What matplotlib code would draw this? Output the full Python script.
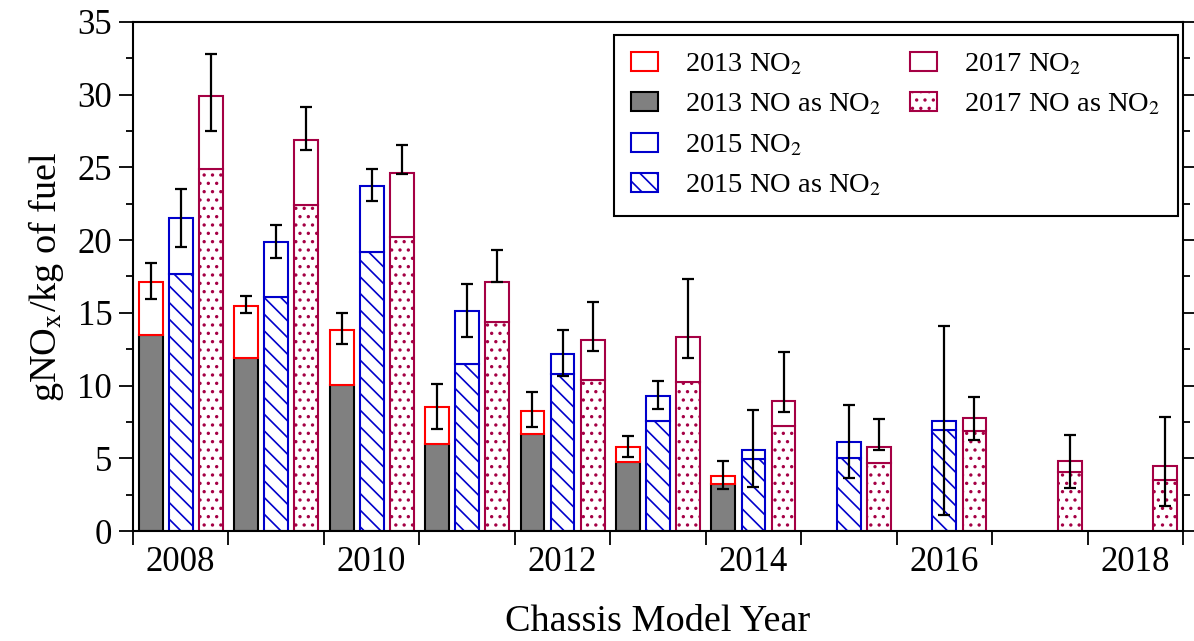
import numpy as np
from matplotlib import rcParams
rcParams['font.family'] = ['Liberation Serif', 'DejaVu Serif']
rcParams['mathtext.fontset'] = 'stix'
rcParams['hatch.linewidth'] = 1.2
from matplotlib import pyplot as plt
from matplotlib.patches import Patch

years = np.arange(2008, 2019)

# 2013 campaign (2008-2014 chassis)
no_2013 = [13.5, 11.9, 10.05, 5.95, 6.7, 4.75, 3.25]
tot_2013 = [17.1, 15.5, 13.8, 8.5, 8.25, 5.75, 3.8]
lo_2013 = [15.93, 15.01, 12.84, 7.01, 7.15, 5.09, 2.89]
hi_2013 = [18.41, 16.18, 14.97, 10.11, 9.54, 6.53, 4.79]

# 2015 campaign (2008-2016)
no_2015 = [17.7, 16.1, 19.15, 11.45, 10.8, 7.55, 4.95, 5.05, 6.95]
tot_2015 = [21.5, 19.9, 23.75, 15.1, 12.2, 9.25, 5.6, 6.1, 7.55]
lo_2015 = [19.53, 18.8, 22.7, 13.32, 10.68, 8.37, 3.0, 3.67, 1.12]
hi_2015 = [23.54, 21.02, 24.87, 16.99, 13.85, 10.3, 8.32, 8.64, 14.12]

# 2017 campaign (2008-2018)
no_2017 = [24.9, 22.4, 20.2, 14.4, 10.35, 10.25, 7.25, 4.7, 6.9, 4.05, 3.5]
tot_2017 = [29.9, 26.9, 24.65, 17.15, 13.1, 13.35, 8.95, 5.8, 7.75, 4.8, 4.5]
lo_2017 = [27.53, 26.2, 24.55, 17.15, 12.38, 11.87, 8.2, 5.57, 6.28, 2.96, 1.72]
hi_2017 = [32.78, 29.18, 26.55, 19.33, 15.77, 17.31, 12.31, 7.68, 9.24, 6.62, 7.82]

red = '#ff0000'
blue = '#0000cc'
maroon = '#a50044'
w = 0.25
off = 0.315
hatch15 = '\\\\'
hatch17 = '..'

fig = plt.figure(figsize=(11.94, 6.41), dpi=100)
ax = fig.add_axes([0.1114, 0.1716, 0.8794, 0.7941])


def draw(x, no, tot, lo, hi, no_kw, tot_kw):
    no = np.array(no)
    tot = np.array(tot)
    ax.bar(x, no, width=w, linewidth=1.5, zorder=2, **no_kw)
    ax.bar(x, tot - no, bottom=no, width=w, linewidth=1.5, facecolor='white', zorder=2, **tot_kw)
    yerr = [np.clip(tot - np.array(lo), 0, None), np.clip(np.array(hi) - tot, 0, None)]
    ax.errorbar(x, tot, yerr=yerr, fmt='none', ecolor='black', elinewidth=1.6,
                capsize=4.5, capthick=1.6, zorder=3)


draw(years[:7] - off, no_2013, tot_2013, lo_2013, hi_2013,
     dict(facecolor='#808080', edgecolor='black'), dict(edgecolor=red))
draw(years[:9], no_2015, tot_2015, lo_2015, hi_2015,
     dict(facecolor='white', edgecolor=blue, hatch=hatch15), dict(edgecolor=blue))
draw(years + off, no_2017, tot_2017, lo_2017, hi_2017,
     dict(facecolor='white', edgecolor=maroon, hatch=hatch17), dict(edgecolor=maroon))

ax.set_xlim(2007.5, 2018.5)
ax.set_ylim(0, 35)
ax.set_xticks(np.arange(2007.5, 2019, 1))
ax.set_xticklabels([])
ax.set_xticks(years[::2], minor=True)
ax.set_xticklabels([str(y) for y in years[::2]], minor=True)
ax.tick_params(axis='x', which='major', direction='out', length=10, width=1.3)
ax.tick_params(axis='x', which='minor', length=0, labelsize=25, pad=11)
ax.set_yticks(np.arange(0, 36, 5))
ax.set_yticks(np.arange(2.5, 35, 5), minor=True)
ax.tick_params(axis='y', which='both', direction='out', right=True, width=1.3, labelsize=25, pad=5)
ax.tick_params(axis='y', which='major', length=10)
ax.tick_params(axis='y', which='minor', length=5)
for s in ax.spines.values():
    s.set_linewidth(1.5)

ax.set_xlabel('Chassis Model Year', fontsize=27.5, labelpad=18)
ax.set_ylabel(r'gNO$_\mathrm{x}$/kg of fuel', fontsize=27.5, labelpad=8)

handles = [
    Patch(facecolor='white', edgecolor=red, linewidth=1.5),
    Patch(facecolor='#808080', edgecolor='black', linewidth=1.5),
    Patch(facecolor='white', edgecolor=blue, linewidth=1.5),
    Patch(facecolor='white', edgecolor=blue, hatch=hatch15, linewidth=1.5),
    Patch(facecolor='white', edgecolor=maroon, linewidth=1.5),
    Patch(facecolor='white', edgecolor=maroon, hatch=hatch17, linewidth=1.5),
    Patch(visible=False), Patch(visible=False),
]
labels = [r'2013 NO$_2$', r'2013 NO as NO$_2$', r'2015 NO$_2$', r'2015 NO as NO$_2$',
          r'2017 NO$_2$', r'2017 NO as NO$_2$', '', '']
leg = ax.legend(handles, labels, ncol=2, loc='upper right', bbox_to_anchor=(0.995, 0.975),
                borderaxespad=0, fontsize=20.5, fancybox=False, framealpha=1,
                edgecolor='black', handlelength=0.95, handleheight=0.65,
                columnspacing=1.0, labelspacing=0.52, borderpad=0.6, handletextpad=0.95)
leg.get_frame().set_linewidth(1.5)

fig.savefig('out.png', dpi=100)
